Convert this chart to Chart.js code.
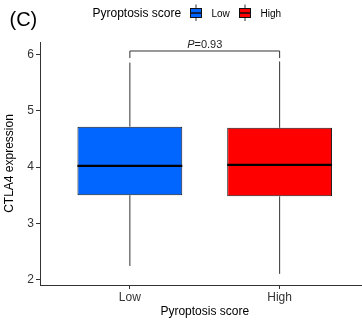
<!DOCTYPE html>
<html>
<head>
<meta charset="utf-8">
<script src="https://cdn.jsdelivr.net/npm/chart.js@4/dist/chart.umd.min.js"></script>
<style>
  html, body { margin: 0; padding: 0; background: #fff; }
  #wrap { width: 362px; height: 321px; }
</style>
</head>
<body>
<div id="wrap"><canvas id="c" width="362" height="321"></canvas></div>
<script>
// Box statistics of CTLA4 expression per pyroptosis score group
const groups = ['Low', 'High'];
const groupPos = [1, 2];
const whiskerLow = [2.24, 2.10];
const q1 = [3.50, 3.48];
const medians = [4.02, 4.04];
const q3 = [4.72, 4.70];
const whiskerHigh = [5.86, 5.88];
const fills = ['#0066FF', '#FF0000'];
const yTicks = [2, 3, 4, 5, 6];
const pValue = '0.93';
const panelTag = '(C)';
const groupTitle = 'Pyroptosis score';
const valueTitle = 'CTLA4 expression';

const FONT = '"Liberation Sans", Arial, Helvetica, sans-serif';
const AXIS = '#333333';

function seg(ctx, x1, y1, x2, y2) {
  ctx.beginPath();
  ctx.moveTo(x1, y1);
  ctx.lineTo(x2, y2);
  ctx.stroke();
}

// Whiskers and median lines, placed from the bar elements and the value scale
const boxParts = {
  id: 'boxParts',
  beforeDatasetsDraw(chart) {
    const { ctx, scales: { y } } = chart;
    const meta = chart.getDatasetMeta(0);
    ctx.save();
    ctx.strokeStyle = AXIS;
    ctx.lineWidth = 1;
    meta.data.forEach((bar, i) => {
      const { x } = bar.getProps(['x'], true);
      seg(ctx, x, y.getPixelForValue(q3[i]), x, y.getPixelForValue(whiskerHigh[i]));
      seg(ctx, x, y.getPixelForValue(q1[i]), x, y.getPixelForValue(whiskerLow[i]));
    });
    ctx.restore();
  },
  afterDatasetsDraw(chart) {
    const { ctx, scales: { y } } = chart;
    const meta = chart.getDatasetMeta(0);
    ctx.save();
    ctx.strokeStyle = '#000';
    ctx.lineWidth = 2.2;
    meta.data.forEach((bar, i) => {
      const { x, width } = bar.getProps(['x', 'width'], true);
      const my = y.getPixelForValue(medians[i]);
      seg(ctx, x - width / 2, my, x + width / 2, my);
    });
    ctx.restore();
  }
};

// Significance bracket, x-axis title, panel tag and legend
const annotations = {
  id: 'annotations',
  afterDraw(chart) {
    const { ctx, scales: { x, y } } = chart;
    ctx.save();

    // bracket between the two groups
    const bx1 = x.getPixelForValue(groupPos[0]);
    const bx2 = x.getPixelForValue(groupPos[1]);
    const byTop = y.getPixelForValue(6.066);
    const byEnd = y.getPixelForValue(5.94);
    ctx.strokeStyle = AXIS;
    ctx.lineWidth = 1;
    ctx.beginPath();
    ctx.moveTo(bx1, byEnd);
    ctx.lineTo(bx1, byTop);
    ctx.lineTo(bx2, byTop);
    ctx.lineTo(bx2, byEnd);
    ctx.stroke();

    // P label, italic P
    const pItalic = 'italic 11px ' + FONT;
    const pRoman = '11px ' + FONT;
    ctx.font = pItalic;
    const wP = ctx.measureText('P').width;
    ctx.font = pRoman;
    const wRest = ctx.measureText('=' + pValue).width;
    const cx = (bx1 + bx2) / 2;
    const startX = cx - (wP + wRest) / 2;
    const pyBase = byTop - 3;
    ctx.fillStyle = '#222';
    ctx.textBaseline = 'alphabetic';
    ctx.textAlign = 'left';
    ctx.font = pItalic;
    ctx.fillText('P', startX, pyBase);
    ctx.font = pRoman;
    ctx.fillText('=' + pValue, startX + wP, pyBase);

    // x-axis title centred on the panel range
    ctx.fillStyle = '#000';
    ctx.font = '12px ' + FONT;
    ctx.textAlign = 'center';
    ctx.fillText(groupTitle, x.getPixelForValue(1.5), 315);

    // panel tag
    ctx.font = '20px ' + FONT;
    ctx.textAlign = 'left';
    ctx.textBaseline = 'middle';
    ctx.fillText(panelTag, 9.5, 20);

    // legend
    ctx.font = '12px ' + FONT;
    ctx.fillStyle = '#000';
    ctx.fillText(groupTitle, 92.5, 14);
    const keyX = [190, 239];
    ctx.font = '10px ' + FONT;
    groups.forEach((g, i) => {
      const kx = keyX[i];
      const kw = 12;
      ctx.strokeStyle = AXIS;
      ctx.lineWidth = 1;
      seg(ctx, kx + kw / 2, 4.5, kx + kw / 2, 21);
      ctx.fillStyle = fills[i];
      ctx.fillRect(kx, 8, kw, 10);
      ctx.strokeStyle = '#111';
      ctx.strokeRect(kx + 0.5, 8.5, kw - 1, 9);
      ctx.lineWidth = 1.5;
      seg(ctx, kx, 13, kx + kw, 13);
      ctx.fillStyle = '#000';
      ctx.fillText(g, kx + 21.5, 14);
    });

    ctx.restore();
  }
};

new Chart(document.getElementById('c'), {
  type: 'bar',
  data: {
    datasets: [{
      data: groupPos.map((p, i) => ({ x: p, y: [q1[i], q3[i]] })),
      backgroundColor: fills,
      borderColor: '#1a1a1a',
      borderWidth: 1,
      borderSkipped: false,
      categoryPercentage: 1,
      barPercentage: 0.7
    }]
  },
  options: {
    responsive: false,
    animation: false,
    devicePixelRatio: 1,
    layout: { padding: { top: 42, left: 0, right: 0, bottom: 0 } },
    plugins: { legend: { display: false }, tooltip: { enabled: false } },
    scales: {
      x: {
        type: 'linear',
        min: 0.4,
        max: 2.55,
        offset: false,
        afterBuildTicks: s => { s.ticks = groupPos.map(v => ({ value: v })); },
        afterFit: s => { s.height = 36; },
        ticks: {
          callback: v => groups[groupPos.indexOf(v)],
          font: { size: 12, family: FONT },
          color: AXIS,
          padding: 1,
          maxRotation: 0,
          autoSkip: false
        },
        grid: { drawOnChartArea: false, drawTicks: true, tickLength: 4, color: AXIS, offset: false },
        border: { display: true, color: AXIS, width: 1 }
      },
      y: {
        type: 'linear',
        min: 1.902,
        max: 6.226,
        beginAtZero: false,
        afterBuildTicks: s => { s.ticks = yTicks.map(v => ({ value: v })); },
        afterFit: s => { s.width = 40; },
        ticks: {
          font: { size: 12, family: FONT },
          color: AXIS,
          padding: 2
        },
        grid: { drawOnChartArea: false, drawTicks: true, tickLength: 4, color: AXIS },
        border: { display: true, color: AXIS, width: 1 },
        title: {
          display: true,
          text: valueTitle,
          color: '#000',
          font: { size: 12, family: FONT },
          padding: { top: 2, bottom: 0 }
        }
      }
    }
  },
  plugins: [boxParts, annotations]
});
</script>
</body>
</html>
